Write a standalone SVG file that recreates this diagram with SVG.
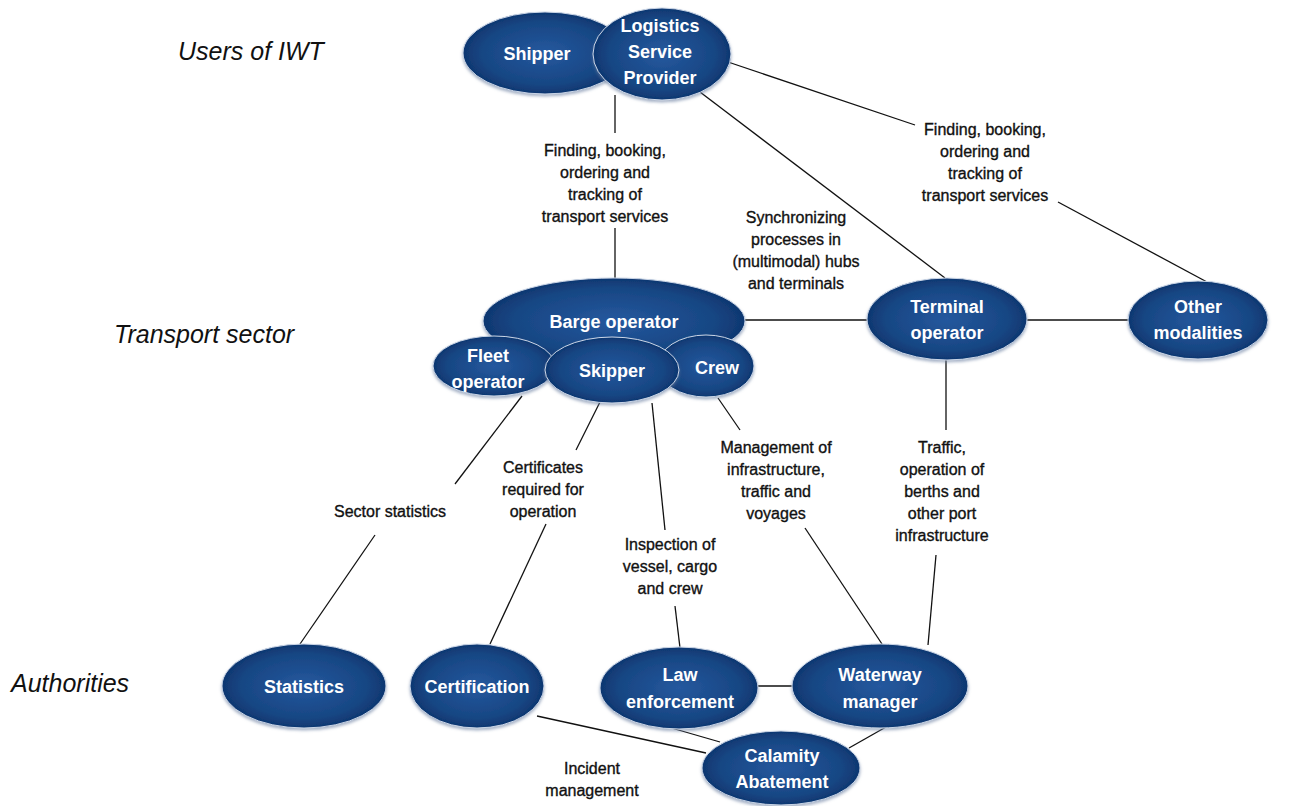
<svg xmlns="http://www.w3.org/2000/svg" width="1291" height="806" viewBox="0 0 1291 806">
<defs>
<radialGradient id="g" cx="50%" cy="50%" r="55%">
<stop offset="0" stop-color="#25589e"/>
<stop offset="0.7" stop-color="#174683"/>
<stop offset="1" stop-color="#0c3068"/>
</radialGradient>
<filter id="sh" x="-10%" y="-10%" width="120%" height="130%">
<feDropShadow dx="0" dy="2" stdDeviation="1.5" flood-color="#6b7fa0" flood-opacity="0.6"/>
</filter>
</defs>
<style>
.n{fill:url(#g);stroke:#c9d5e6;stroke-width:1;filter:url(#sh)}
.t{font-family:"Liberation Sans",Arial,sans-serif;font-weight:bold;font-size:18px;fill:#fff;text-anchor:middle}
.l{font-family:"Liberation Sans",Arial,sans-serif;font-size:16px;fill:#111;stroke:#111;stroke-width:0.35;text-anchor:middle}
.s{font-family:"Liberation Sans",Arial,sans-serif;font-style:italic;font-size:25px;fill:#111}
.c line{stroke:#111;stroke-width:1.3;fill:none}
</style>
<rect width="1291" height="806" fill="#fff"/>
<text class="s" x="178" y="60">Users of IWT</text>
<text class="s" x="114" y="343">Transport sector</text>
<text class="s" x="11" y="692">Authorities</text>
<g class="c" id="connectors">
<line x1="615" y1="95" x2="615" y2="133"/>
<line x1="615" y1="228" x2="615" y2="282"/>
<line x1="728" y1="62" x2="915" y2="125"/>
<line x1="1058" y1="202" x2="1207" y2="282"/>
<line x1="700" y1="92" x2="945" y2="278"/>
<line x1="745" y1="320" x2="867" y2="320"/>
<line x1="1027" y1="320" x2="1128" y2="320"/>
<line x1="522" y1="396" x2="455" y2="484"/>
<line x1="375" y1="535" x2="300" y2="644"/>
<line x1="600" y1="402" x2="576" y2="450"/>
<line x1="546" y1="524" x2="490" y2="644"/>
<line x1="652" y1="403" x2="665" y2="530"/>
<line x1="675" y1="606" x2="680" y2="648"/>
<line x1="718" y1="398" x2="740" y2="430"/>
<line x1="805" y1="528" x2="882" y2="644"/>
<line x1="946" y1="360" x2="946" y2="430"/>
<line x1="936" y1="555" x2="928" y2="645"/>
<line x1="758" y1="686" x2="792" y2="686"/>
<line x1="537" y1="716" x2="706" y2="753"/>
<line x1="668" y1="727" x2="720" y2="742"/>
<line x1="886" y1="727" x2="849" y2="748"/>
</g>
<g id="labels">
<text class="l" x="605" y="156">Finding, booking,</text>
<text class="l" x="605" y="178">ordering and</text>
<text class="l" x="605" y="200">tracking of</text>
<text class="l" x="605" y="222">transport services</text>
<text class="l" x="985" y="135">Finding, booking,</text>
<text class="l" x="985" y="157">ordering and</text>
<text class="l" x="985" y="179">tracking of</text>
<text class="l" x="985" y="201">transport services</text>
<text class="l" x="796" y="223">Synchronizing</text>
<text class="l" x="796" y="245">processes in</text>
<text class="l" x="796" y="267">(multimodal) hubs</text>
<text class="l" x="796" y="289">and terminals</text>
<text class="l" x="390" y="517">Sector statistics</text>
<text class="l" x="543" y="473">Certificates</text>
<text class="l" x="543" y="495">required for</text>
<text class="l" x="543" y="517">operation</text>
<text class="l" x="670" y="550">Inspection of</text>
<text class="l" x="670" y="572">vessel, cargo</text>
<text class="l" x="670" y="594">and crew</text>
<text class="l" x="776" y="453">Management of</text>
<text class="l" x="776" y="475">infrastructure,</text>
<text class="l" x="776" y="497">traffic and</text>
<text class="l" x="776" y="519">voyages</text>
<text class="l" x="942" y="453">Traffic,</text>
<text class="l" x="942" y="475">operation of</text>
<text class="l" x="942" y="497">berths and</text>
<text class="l" x="942" y="519">other port</text>
<text class="l" x="942" y="541">infrastructure</text>
<text class="l" x="592" y="774">Incident</text>
<text class="l" x="592" y="796">management</text>
</g>
<g id="shipper"><ellipse class="n" cx="545" cy="53" rx="82" ry="41"/><text class="t" x="537" y="60">Shipper</text></g>
<g id="lsp"><ellipse class="n" cx="662" cy="54" rx="69" ry="46"/><text class="t" x="660" y="32">Logistics</text><text class="t" x="660" y="58">Service</text><text class="t" x="660" y="84">Provider</text></g>
<g id="barge"><ellipse class="n" cx="614" cy="321" rx="131" ry="43"/><text class="t" x="614" y="328">Barge operator</text></g>
<g id="fleet"><ellipse class="n" cx="494" cy="366" rx="61" ry="30"/><text class="t" x="488" y="362">Fleet</text><text class="t" x="488" y="388">operator</text></g>
<g id="crew"><ellipse class="n" cx="706" cy="366" rx="48" ry="31"/><text class="t" x="717" y="374">Crew</text></g>
<g id="skipper"><ellipse class="n" cx="612" cy="370" rx="67" ry="33"/><text class="t" x="612" y="377">Skipper</text></g>
<g id="terminal"><ellipse class="n" cx="947" cy="319" rx="80" ry="41"/><text class="t" x="947" y="313">Terminal</text><text class="t" x="947" y="339">operator</text></g>
<g id="other"><ellipse class="n" cx="1198" cy="320" rx="70" ry="39"/><text class="t" x="1198" y="313">Other</text><text class="t" x="1198" y="339">modalities</text></g>
<g id="statistics"><ellipse class="n" cx="304" cy="686" rx="82" ry="42"/><text class="t" x="304" y="693">Statistics</text></g>
<g id="certification"><ellipse class="n" cx="477" cy="686" rx="67" ry="42"/><text class="t" x="477" y="693">Certification</text></g>
<g id="law"><ellipse class="n" cx="679" cy="688" rx="79" ry="41"/><text class="t" x="680" y="681">Law</text><text class="t" x="680" y="708">enforcement</text></g>
<g id="waterway"><ellipse class="n" cx="880" cy="686" rx="88" ry="42"/><text class="t" x="880" y="681">Waterway</text><text class="t" x="880" y="708">manager</text></g>
<g id="calamity"><ellipse class="n" cx="781" cy="768" rx="79" ry="37"/><text class="t" x="782" y="762">Calamity</text><text class="t" x="782" y="788">Abatement</text></g>
</svg>
